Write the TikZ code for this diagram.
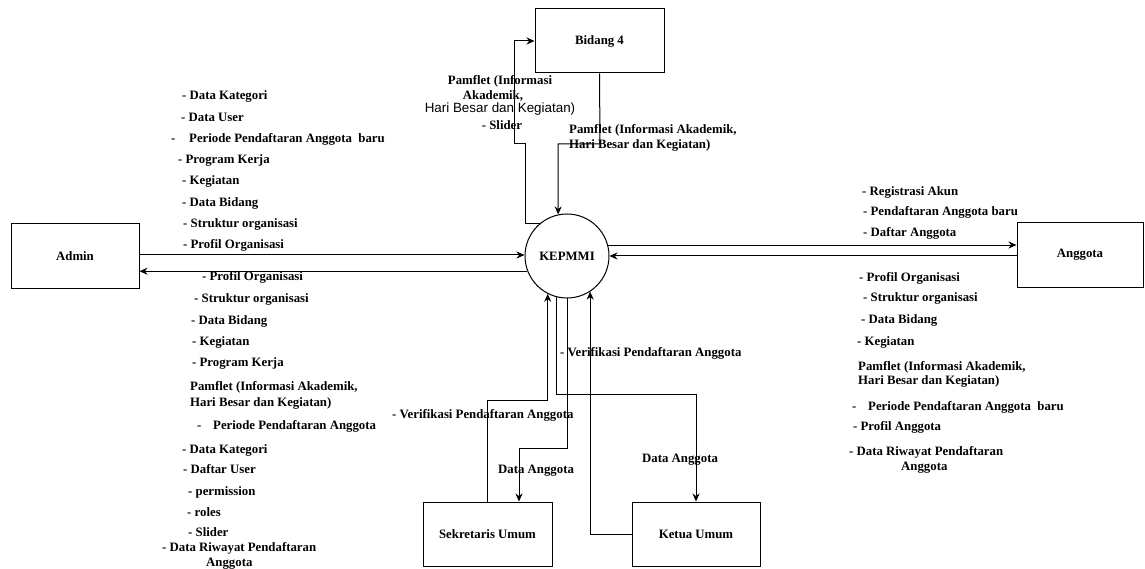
\documentclass[tikz,border=0pt]{standalone}
\usepackage{fontspec}
\setmainfont{Liberation Serif}
\newfontfamily\sansf{Liberation Sans}
\usetikzlibrary{arrows.meta}
\tikzset{
  txt/.style={font=\bfseries\fontsize{12.8}{15}\selectfont},
  box/.style={txt, draw, line width=1pt, minimum width=128pt, minimum height=64pt, inner sep=0pt},
  proc/.style={txt, draw, circle, line width=1pt, minimum size=84pt, inner sep=0pt},
  lbl/.style={txt, anchor=west, inner sep=0pt, text height=9pt, text depth=3pt},
  lblc/.style={lbl, anchor=center},
  arr/.style={-{Stealth[length=8pt,width=7pt]}, line width=1pt},
  ln/.style={line width=1pt}
}
\begin{document}
\begin{tikzpicture}[x=1pt,y=-1pt]
\useasboundingbox (0,0) rectangle (1145,569);
% entities
\node[box] (admin) at (75,256) {Admin};
\node[proc] (kep) at (567,256) {KEPMMI};
\node[box, minimum width=126pt] (ang) at (1080,255) {Anggota};
\node[box, minimum width=129pt] (bid) at (599.5,41) {Bidang 4};
\node[box, minimum width=129pt] (sek) at (487.5,534) {Sekretaris Umum};
\node[box] (ket) at (696,534) {Ketua Umum};
% helper coordinates
\coordinate (b1) at (525,144);
\coordinate (b2) at (514,144);
\coordinate (b3) at (600,144);
\coordinate (s1) at (487.5,400);
\coordinate (s2) at (519,448);
\coordinate (k1) at (696,394);
% connectors
\draw[arr] (admin.east |- 0,255) -- (kep.west |- 0,255);
\draw[arr] (kep.201) -- (admin.east |- kep.201);
\draw[arr] (kep.15) -- (ang.west |- kep.15);
\draw[arr] (ang.west |- kep.east) -- (kep.east);
\draw[arr] (kep.130) -| (b1) -- (b2) |- (bid.west);
\draw[arr] (bid.south) -- (b3) -| (kep.102);
\draw[arr] (sek.north) -- (s1) -| (kep.243);
\draw[arr] (kep.271) |- (s2) -- (s2 |- sek.north);
\draw[arr] (kep.256) |- (k1) -- (ket.north);
\draw[arr] (ket.west) -| (kep.303);
% Admin -> KEPMMI labels
\node[lbl] (la1) at (182,97) {- Data Kategori};
\node[lbl] (la2) at (181,119) {- Data User};
\node[lbl] (la3d) at (171,140) {-};
\node[lbl] (la3) at (189,140) {Periode Pendaftaran Anggota~~baru};
\node[lbl] (la4) at (178,161) {- Program Kerja};
\node[lbl] (la5) at (182,182) {- Kegiatan};
\node[lbl] (la6) at (182,204) {- Data Bidang};
\node[lbl] (la7) at (183,225) {- Struktur organisasi};
\node[lbl] (la8) at (183,245) {- Profil Organisasi};
% KEPMMI -> Admin labels
\node[lbl] (lb1) at (202,277) {- Profil Organisasi};
\node[lbl] (lb2) at (194,299) {- Struktur organisasi};
\node[lbl] (lb3) at (191,321) {- Data Bidang};
\node[lbl] (lb4) at (192,342) {- Kegiatan};
\node[lbl] (lb5) at (192,363) {- Program Kerja};
\node[lbl] (lb6) at (190,387) {Pamflet (Informasi Akademik,};
\node[lbl] (lb7) at (190,403) {Hari Besar dan Kegiatan)};
\node[lbl] (lb8d) at (197,426) {-};
\node[lbl] (lb8) at (213,426) {Periode Pendaftaran Anggota};
\node[lbl] (lb9) at (182,450) {- Data Kategori};
\node[lbl] (lb10) at (183,470) {- Daftar User};
\node[lbl] (lb11) at (188,492) {- permission};
\node[lbl] (lb12) at (187,513) {- roles};
\node[lbl] (lb13) at (188,533) {- Slider};
\node[lbl] (lb14) at (162,548) {- Data Riwayat Pendaftaran};
\node[lbl] (lb15) at (206,563) {Anggota};
% KEPMMI -> Anggota labels
\node[lbl] (lc1) at (862,193) {- Registrasi Akun};
\node[lbl] (lc2) at (863,213) {- Pendaftaran Anggota baru};
\node[lbl] (lc3) at (863,234) {- Daftar Anggota};
% Anggota side lower labels
\node[lbl] (ld1) at (859,278) {- Profil Organisasi};
\node[lbl] (ld2) at (863,298) {- Struktur organisasi};
\node[lbl] (ld3) at (861,320) {- Data Bidang};
\node[lbl] (ld4) at (857,342) {- Kegiatan};
\node[lbl] (ld5) at (858,367) {Pamflet (Informasi Akademik,};
\node[lbl] (ld6) at (858,381) {Hari Besar dan Kegiatan)};
\node[lbl] (ld7d) at (852,407) {-};
\node[lbl] (ld7) at (868,407) {Periode Pendaftaran Anggota~~baru};
\node[lbl] (ld8) at (853,427) {- Profil Anggota};
\node[lbl] (ld9) at (849,452) {- Data Riwayat Pendaftaran};
\node[lbl] (ld10) at (901,467) {Anggota};
% Bidang 4 labels
\node[lblc] (le1) at (500,82) {Pamflet (Informasi};
\node[lblc] (le2) at (493,97) {Akademik,};
\node[lblc, font=\sansf\fontsize{13.4}{15}\selectfont] (le3) at (500,110) {Hari Besar dan Kegiatan)};
\node[lblc] (le4) at (502,127) {- Slider};
\node[lbl] (lf1) at (569,131) {Pamflet (Informasi Akademik,};
\node[lbl] (lf2) at (569,146) {Hari Besar dan Kegiatan)};
% bottom labels
\node[lbl] (lg1) at (392,415) {- Verifikasi Pendaftaran Anggota};
\node[lbl] (lg2) at (498,470) {Data Anggota};
\node[lbl] (lg3) at (642,459) {Data Anggota};
\node[lbl] (lg4) at (560,353) {- Verifikasi Pendaftaran Anggota};
\end{tikzpicture}
\end{document}
